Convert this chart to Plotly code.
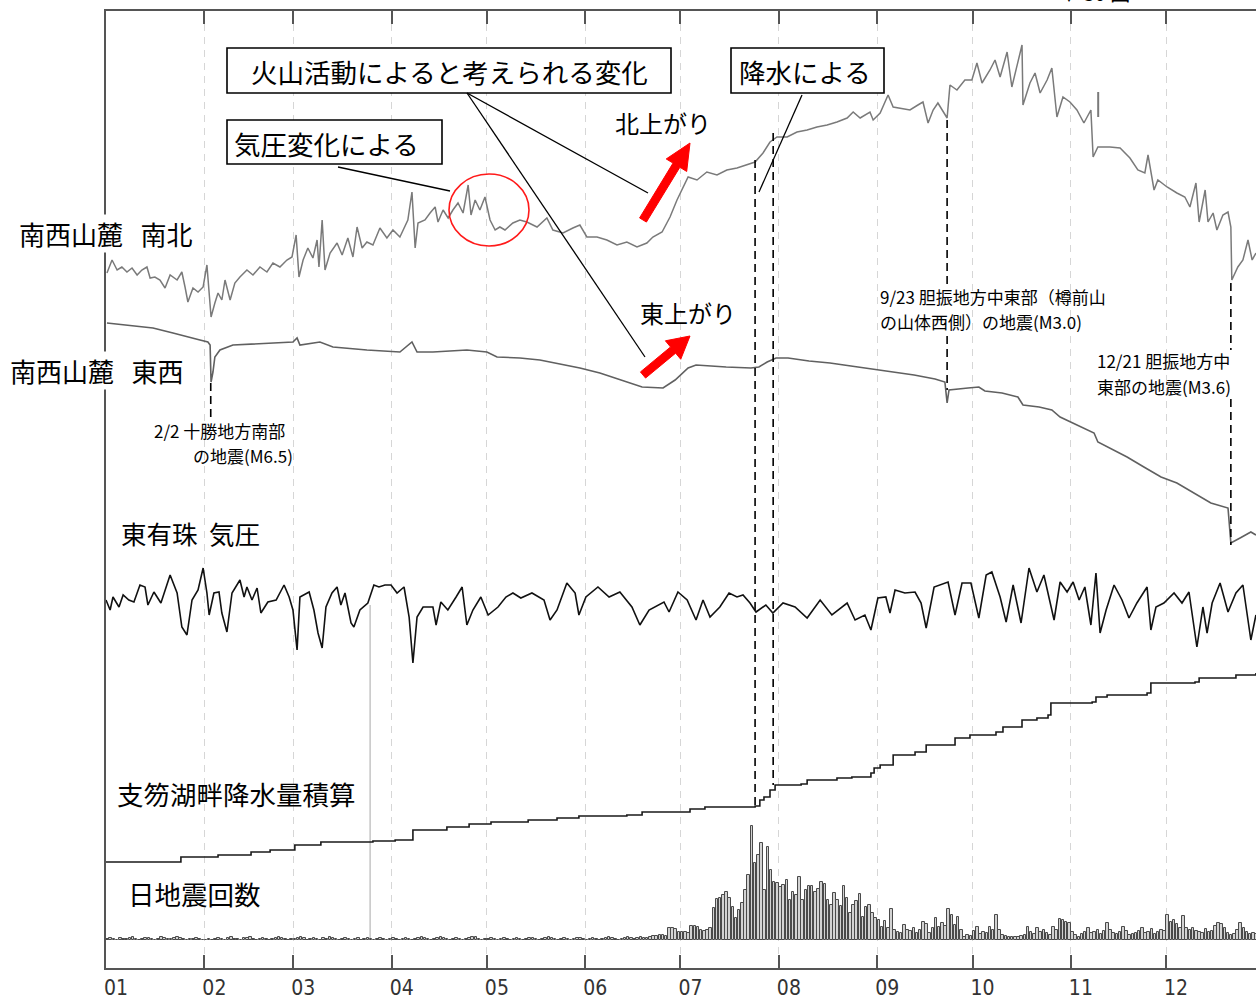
import math
import numpy as np
import pandas as pd
import plotly.graph_objects as go

YEAR_START = pd.Timestamp("2013-01-01")
JP = "Noto Sans CJK JP"

# ---- 南西山麓 南北 (tilt, relative level) : day of year / level ----
ns_day = [0.3, 1.9, 3.5, 5.0, 6.6, 8.2, 9.8, 11.3, 12.9, 13.9,
          15.4, 17.0, 18.6, 20.2, 22.4, 23.9, 24.9, 25.8, 27.4, 29.0,
          30.6, 31.8, 32.5, 33.1, 34.3, 35.3, 36.5, 37.5, 39.1, 40.6,
          42.2, 44.4, 46.3, 48.5, 50.7, 52.6, 54.8, 57.0, 58.6, 59.9,
          60.8, 62.1, 63.6, 65.2, 66.5, 67.1, 68.1, 69.0, 70.6, 72.8,
          74.4, 76.2, 77.8, 79.1, 80.7, 82.2, 84.1, 86.3, 88.5, 90.4,
          92.6, 94.2, 95.1, 96.4, 97.4, 98.3, 100.5, 102.1, 103.7, 104.6,
          106.2, 107.8, 109.3, 110.9, 112.5, 114.1, 115.0, 116.3, 117.8, 119.4,
          121.0, 122.6, 124.1, 125.7, 128.2, 130.4, 132.6, 135.8, 138.9, 140.8,
          144.0, 147.1, 149.3, 151.5, 154.7, 157.8, 161.0, 164.1, 167.3, 170.4,
          172.3, 175.2, 177.7, 179.9, 181.8, 183.4, 186.2, 189.3, 192.5, 195.6,
          198.8, 201.9, 204.5, 207.0, 209.2, 211.4, 214.6, 217.7, 220.9, 224.0,
          227.2, 230.3, 233.5, 235.4, 237.6, 240.7, 241.7, 243.9, 246.4, 248.0,
          250.2, 253.3, 255.8, 257.4, 259.0, 260.6, 262.1, 265.0, 265.9, 268.1,
          270.6, 272.8, 274.4, 276.0, 278.5, 280.1, 281.7, 283.9, 285.4, 287.0,
          288.6, 288.9, 291.1, 292.7, 294.3, 296.5, 298.0, 299.6, 301.5, 303.7,
          305.9, 308.1, 310.3, 311.0, 312.5, 316.3, 319.5, 322.6, 325.1, 327.3,
          328.3, 329.5, 330.2, 331.4, 334.3, 337.4, 339.9, 341.5, 343.4, 344.4,
          346.3, 347.2, 348.8, 350.0, 351.9, 353.5, 354.4, 354.7, 356.6, 358.2,
          359.8, 361.1, 362.3]
ns_val = [727, 740, 730, 733, 728, 732, 725, 730, 733, 722,
          723, 720, 712, 725, 720, 728, 713, 698, 712, 708,
          713, 735, 707, 683, 697, 707, 700, 720, 700, 717,
          723, 730, 725, 733, 728, 737, 733, 740, 743, 765,
          723, 740, 752, 742, 760, 733, 780, 730, 747, 757,
          745, 762, 743, 773, 752, 758, 755, 772, 762, 770,
          763, 775, 780, 808, 752, 777, 780, 787, 793, 778,
          790, 782, 790, 797, 787, 815, 785, 800, 790, 803,
          780, 770, 773, 770, 777, 780, 778, 773, 782, 770,
          767, 772, 775, 763, 763, 760, 755, 758, 753, 757,
          763, 768, 783, 800, 813, 823, 820, 828, 825, 830,
          832, 835, 838, 847, 858, 863, 863, 868, 870, 873,
          875, 878, 882, 888, 882, 888, 880, 887, 905, 893,
          892, 890, 895, 898, 877, 890, 897, 882, 915, 910,
          920, 920, 937, 917, 930, 940, 923, 948, 913, 933,
          955, 895, 917, 927, 907, 920, 932, 883, 903, 898,
          890, 877, 890, 843, 853, 853, 852, 842, 830, 827,
          845, 823, 810, 820, 813, 807, 803, 793, 817, 778,
          810, 778, 787, 770, 785, 788, 773, 720, 733, 740,
          760, 740, 747]
# short isolated piece of the NS record in November
ns_frag_day = [312.6, 312.6]
ns_frag_val = [908, 883]

# ---- 南西山麓 東西 ----
ew_day = [0.3, 8.5, 14.8, 21.1, 26.5, 29.6, 32.1, 32.8, 33.1, 33.7,
          34.3, 35.9, 40.0, 50.7, 58.9, 60.2, 61.1, 67.4, 71.5, 82.2,
          92.6, 96.4, 98.0, 103.0, 113.7, 120.0, 123.2, 130.4, 136.7, 143.0,
          149.3, 155.6, 162.3, 168.9, 175.5, 179.3, 183.4, 185.9, 195.4, 203.2,
          205.7, 208.3, 211.1, 214.9, 221.5, 228.1, 234.7, 241.3, 248.0, 254.6,
          261.2, 264.3, 265.0, 265.6, 271.6, 275.0, 276.9, 282.3, 287.3, 288.9,
          294.0, 298.0, 300.6, 305.9, 311.3, 312.5, 316.3, 321.7, 327.0, 332.4,
          337.4, 342.8, 348.1, 353.5, 354.4, 357.3, 360.7, 362.3]
ew_val = [677, 674, 672, 667, 663, 660, 658, 655, 618, 628,
          643, 650, 655, 657, 658, 662, 655, 658, 653, 650,
          648, 658, 648, 648, 650, 648, 643, 642, 640, 636,
          632, 627, 620, 613, 612, 620, 632, 635, 633, 632,
          633, 638, 642, 642, 639, 637, 634, 631, 628, 625,
          621, 618, 597, 610, 612, 613, 609, 607, 603, 595,
          593, 590, 583, 575, 567, 558, 552, 543, 533, 523,
          517, 507, 497, 492, 457, 462, 468, 465]

# ---- 東有珠 気圧 ----
pres_day = [0.0, 1.3, 2.2, 4.1, 5.4, 7.2, 8.8, 10.7, 12.3, 13.2,
            15.1, 17.3, 20.2, 22.4, 23.9, 25.5, 27.1, 29.0, 30.6, 31.8,
            32.5, 34.0, 35.6, 36.5, 38.1, 39.7, 42.2, 43.5, 44.4, 46.0,
            47.6, 48.8, 51.0, 53.6, 56.1, 57.7, 58.9, 60.2, 61.1, 64.0,
            65.5, 66.8, 68.1, 69.3, 71.2, 72.8, 74.0, 75.3, 77.2, 78.1,
            80.0, 82.5, 84.4, 86.0, 87.9, 89.8, 91.7, 93.9, 95.5, 96.7,
            98.0, 99.9, 103.0, 104.0, 105.5, 107.7, 110.3, 112.2, 113.7, 115.6,
            118.1, 120.4, 123.5, 126.0, 128.2, 130.7, 134.2, 138.0, 139.9, 142.1,
            145.2, 147.8, 149.0, 151.2, 155.0, 158.5, 161.9, 165.7, 168.2, 171.1,
            175.8, 177.4, 180.2, 183.1, 185.9, 188.1, 190.3, 193.4, 196.3, 198.8,
            200.7, 202.9, 204.8, 207.9, 210.1, 213.3, 217.1, 220.9, 225.0, 228.7,
            233.5, 236.0, 239.1, 241.0, 243.2, 245.7, 247.0, 248.6, 251.7, 254.9,
            256.8, 258.4, 260.9, 265.3, 267.5, 269.7, 272.5, 275.0, 277.3, 279.1,
            281.7, 283.6, 285.8, 288.3, 290.8, 293.3, 295.5, 298.7, 300.6, 302.8,
            304.7, 306.6, 308.4, 310.3, 311.9, 313.2, 315.1, 317.6, 320.1, 322.3,
            324.8, 328.0, 329.2, 330.8, 333.3, 336.5, 339.0, 341.2, 343.7, 345.6,
            346.9, 348.5, 351.0, 353.5, 356.0, 358.2, 360.7, 362.3]
pres_val = [400, 390, 403, 393, 405, 400, 398, 415, 413, 395,
            408, 397, 425, 407, 373, 365, 400, 410, 432, 407,
            385, 407, 408, 387, 368, 407, 420, 403, 413, 400,
            412, 387, 398, 400, 415, 403, 390, 350, 403, 408,
            390, 367, 352, 393, 407, 413, 395, 407, 377, 373,
            390, 397, 415, 413, 415, 415, 407, 413, 383, 337,
            383, 393, 393, 375, 398, 390, 403, 413, 375, 390,
            403, 385, 393, 403, 407, 402, 407, 400, 380, 390,
            417, 407, 385, 403, 413, 403, 408, 393, 375, 390,
            398, 388, 408, 400, 380, 400, 383, 393, 407, 403,
            405, 397, 388, 395, 387, 397, 393, 382, 400, 385,
            397, 380, 385, 370, 402, 403, 387, 410, 407, 408,
            397, 372, 413, 418, 385, 417, 417, 382, 425, 428,
            403, 378, 415, 377, 432, 408, 425, 380, 418, 408,
            418, 400, 413, 375, 427, 367, 390, 415, 400, 382,
            397, 413, 370, 393, 397, 407, 397, 408, 353, 393,
            367, 397, 417, 388, 407, 415, 360, 385]
# one-sample dropout in the pressure record (late March)
pres_drop_day = [83.2, 83.2]
pres_drop_val = [395, 60]

# ---- 支笏湖畔 降水量積算 (cumulative, relative level) ----
rain_day = [0.0, 23.6, 35.3, 45.7, 51.7, 59.5, 67.7, 84.1, 91.1, 96.7,
            107.4, 114.4, 121.3, 133.0, 142.1, 149.0, 164.1, 168.9, 184.0, 188.7,
            204.5, 206.0, 207.3, 209.2, 210.8, 219.0, 220.9, 230.3, 235.0, 241.0,
            242.0, 243.9, 248.0, 254.9, 258.4, 267.5, 272.2, 280.4, 282.6, 288.6,
            293.3, 296.8, 297.7, 310.7, 311.9, 315.4, 328.0, 329.2, 343.1, 344.4,
            356.0, 362.3]
rain_cum = [138, 143, 145, 148, 150, 155, 158, 159, 160, 170,
            173, 176, 178, 180, 182, 184, 185, 188, 191, 193,
            194, 200, 203, 210, 215, 216, 220, 222, 223, 227,
            232, 235, 245, 248, 255, 262, 265, 268, 273, 280,
            282, 285, 297, 298, 303, 305, 307, 317, 318, 322,
            325, 327]

# ---- 日地震回数 (daily counts, Jan 1 .. Dec 31) ----
quake_jan = [1, 2, 1, 0, 2, 1, 1, 2, 3, 1, 0, 1, 2, 2, 1, 0, 1, 3, 2, 1, 1, 2, 3, 2, 1, 0, 1, 1, 2, 1, 0]
quake_feb = [0, 1, 0, 1, 2, 1, 0, 2, 3, 1, 1, 0, 2, 2, 3, 1, 0, 1, 2, 1, 0, 1, 2, 3, 2, 1, 0, 1]
quake_mar = [1, 2, 3, 2, 0, 1, 2, 1, 0, 2, 1, 3, 2, 1, 0, 1, 2, 1, 0, 1, 2, 0, 1, 2, 1, 0, 1, 2, 1, 0, 1]
quake_apr = [2, 1, 0, 1, 2, 1, 0, 1, 2, 3, 2, 1, 0, 1, 2, 3, 2, 1, 0, 1, 2, 1, 0, 1, 2, 3, 3, 1, 0, 1]
quake_may = [1, 2, 1, 0, 1, 2, 1, 0, 1, 2, 1, 0, 1, 2, 2, 1, 0, 1, 2, 3, 2, 1, 0, 1, 2, 1, 0, 1, 2, 2, 1]
quake_jun = [0, 1, 2, 1, 0, 1, 2, 3, 2, 1, 0, 1, 2, 3, 2, 1, 2, 3, 2, 2, 3, 4, 4, 5, 5, 4, 12, 12, 11, 8]
quake_jul = [8, 8, 7, 14, 14, 13, 10, 9, 10, 12, 32, 41, 42, 45, 48, 42, 33, 22, 30, 37,
             50, 65, 114, 77, 85, 97, 50, 93, 70, 58, 57]
quake_aug = [53, 55, 60, 40, 48, 45, 63, 40, 50, 54, 54, 48, 51, 58, 56, 40, 35, 47, 40, 34,
             54, 42, 27, 35, 39, 46, 23, 33, 35, 27, 22]
quake_sep = [20, 13, 19, 12, 31, 10, 8, 7, 15, 10, 9, 12, 7, 10, 18, 16, 7, 12, 22, 13,
             17, 14, 31, 25, 15, 23, 10, 3, 5, 4]
quake_oct = [9, 13, 6, 8, 7, 13, 10, 25, 10, 5, 4, 3, 3, 3, 3, 4, 5, 13, 8, 6,
             12, 8, 10, 7, 5, 13, 10, 21, 20, 18, 17]
quake_nov = [8, 5, 3, 6, 8, 12, 7, 8, 10, 6, 9, 17, 10, 7, 6, 8, 13, 9, 5, 6,
             7, 9, 12, 7, 8, 11, 6, 8, 10, 9]
quake_dec = [25, 18, 20, 16, 12, 24, 12, 10, 12, 9, 8, 7, 11, 8, 9, 14, 17, 16, 12, 7,
             5, 6, 10, 17, 12, 8, 6, 7, 6, 5, 4]
quake_counts = (quake_jan + quake_feb + quake_mar + quake_apr + quake_may + quake_jun +
                quake_jul + quake_aug + quake_sep + quake_oct + quake_nov + quake_dec)

# event days (day of year)
quake_event_days = [33.0, 265.0, 354.4]   # 2/2, 9/23, 12/21
rain_event_days = [204.5, 210.2]

month_labels = ["01", "02", "03", "04", "05", "06", "07", "08", "09", "10", "11", "12"]


def to_dates(days):
    return YEAR_START + pd.to_timedelta(np.asarray(days, dtype=float), unit="D")


# figure geometry (plot area in pixels)
W, H = 1256, 1001
L, R, T, B = 106, 1256, 11, 968
COUNT_BASE = 940   # pixel row of the zero line of the count bars


def px(x):
    return (x - L) / (R - L)


def py(y):
    return (B - y) / (B - T)


fig = go.Figure()

# daily earthquake counts (own overlaid axis, 1 count per pixel)
fig.add_trace(go.Bar(
    x=to_dates(np.arange(len(quake_counts)) + 0.5), y=quake_counts, yaxis="y2",
    width=0.8 * 86400000,
    marker=dict(color="#d2d2d2", line=dict(color="#4a4a4a", width=1)),
    hoverinfo="skip"))

fig.add_trace(go.Scatter(x=to_dates(pres_drop_day), y=pres_drop_val, mode="lines",
                         line=dict(color="#a8a8a8", width=1), hoverinfo="skip"))
fig.add_trace(go.Scatter(x=to_dates(rain_day), y=rain_cum, mode="lines",
                         line=dict(color="#1a1a1a", width=1.6, shape="hv")))
fig.add_trace(go.Scatter(x=to_dates(pres_day), y=pres_val, mode="lines",
                         line=dict(color="#111111", width=1.6)))
fig.add_trace(go.Scatter(x=to_dates(ew_day), y=ew_val, mode="lines",
                         line=dict(color="#606060", width=1.6)))
fig.add_trace(go.Scatter(x=to_dates(ns_day), y=ns_val, mode="lines",
                         line=dict(color="#7a7a7a", width=1.5)))
fig.add_trace(go.Scatter(x=to_dates(ns_frag_day), y=ns_frag_val, mode="lines",
                         line=dict(color="#7a7a7a", width=2)))

shapes = []
annotations = []


def text(s, x, y, size, xanchor="left", bg=None):
    d = dict(text=s, x=px(x), y=py(y), xref="paper", yref="paper",
             xanchor=xanchor, yanchor="middle", showarrow=False, align="left",
             font=dict(size=size, family=JP, color="black"), borderpad=0)
    if bg:
        d["bgcolor"] = bg
    annotations.append(d)


def seg(x0, y0, x1, y1, color="black", width=1.3, dash=None):
    shapes.append(dict(type="line", xref="paper", yref="paper",
                       x0=px(x0), y0=py(y0), x1=px(x1), y1=py(y1), layer="above",
                       line=dict(color=color, width=width, dash=dash)))


def box(x0, y0, x1, y1):
    shapes.append(dict(type="rect", xref="paper", yref="paper",
                       x0=px(x0), y0=py(y1), x1=px(x1), y1=py(y0), layer="above",
                       fillcolor="white", line=dict(color="black", width=1.6)))


def event_line(day, y0, y1):
    shapes.append(dict(type="line", xref="x", yref="paper",
                       x0=to_dates([day])[0], x1=to_dates([day])[0],
                       y0=py(y0), y1=py(y1), layer="above",
                       line=dict(color="black", width=1.6, dash="8px,5px")))


def arrow(x0, y0, x1, y1, shaft=8, head_len=24, head_half=12):
    dx, dy = x1 - x0, y1 - y0
    n = math.hypot(dx, dy)
    ux, uy = dx / n, dy / n
    nx, ny = -uy, ux
    bx, by = x1 - head_len * ux, y1 - head_len * uy
    s = shaft / 2
    pts = [(x0 + nx * s, y0 + ny * s), (bx + nx * s, by + ny * s),
           (bx + nx * head_half, by + ny * head_half), (x1, y1),
           (bx - nx * head_half, by - ny * head_half), (bx - nx * s, by - ny * s),
           (x0 - nx * s, y0 - ny * s)]
    path = "M " + " L ".join(f"{px(a):.5f},{py(b):.5f}" for a, b in pts) + " Z"
    shapes.append(dict(type="path", xref="paper", yref="paper", path=path,
                       fillcolor="#ff0000", line=dict(color="#ff0000", width=1),
                       layer="above"))


# event markers
event_line(quake_event_days[0], 383, 418)
event_line(quake_event_days[1], 120, 285)
event_line(quake_event_days[1], 336, 390)
event_line(quake_event_days[2], 283, 350)
event_line(quake_event_days[2], 399, 545)
event_line(rain_event_days[0], 160, 806)
event_line(rain_event_days[1], 133, 785)

# callout boxes and leader lines
box(227, 48, 671, 93)
box(731, 48, 884, 93)
box(227, 120, 442, 164)
seg(467, 93, 648, 193)
seg(467, 93, 645, 357)
seg(338, 167, 450, 191)
seg(802, 95, 759, 192)

# red ellipse round the pressure-induced change
shapes.append(dict(type="circle", xref="paper", yref="paper",
                   x0=px(449), x1=px(529), y0=py(246), y1=py(174), layer="above",
                   line=dict(color="#ff1a1a", width=1.6)))

arrow(643, 220, 690, 143, shaft=8, head_len=26, head_half=12)
arrow(643, 375, 690, 336, shaft=8, head_len=22, head_half=12)

# labels
text("南西山麓   南北", 18, 233, 26, bg="white")
text("南西山麓   東西", 9, 370, 26, bg="white")
text("東有珠  気圧", 120, 532, 25.5)
text("支笏湖畔降水量積算", 116, 793, 26.5)
text("日地震回数", 127, 893, 26.5)
text("火山活動によると考えられる変化", 449, 71, 26.5, xanchor="center")
text("降水による", 805, 71, 26.5, xanchor="center")
text("気圧変化による", 233, 143, 26.5)
text("北上がり", 614, 122, 24)
text("東上がり", 639, 312, 24)
# event notes (two lines each)
text("2/2 十勝地方南部", 153, 431, 17)
text("の地震(M6.5)", 192, 456, 17)
text("9/23 胆振地方中東部（樽前山", 879, 297, 17)
text("の山体西側）の地震(M3.0)", 879, 322, 17)
text("12/21 胆振地方中", 1096, 361, 17)
text("東部の地震(M3.6)", 1096, 386, 17)
text("▼ 30 回", 1058, -7, 20)

x_end = YEAR_START + pd.Timedelta(days=362.32)
month_starts = pd.date_range("2013-01-01", periods=12, freq="MS")
line_range = [1000 - B, 1000 - T]
count_range = [-(B - COUNT_BASE), (B - T) - (B - COUNT_BASE)]

fig.update_layout(
    width=W, height=H,
    margin=dict(l=L, r=W - R, t=T, b=H - B, pad=0, autoexpand=False),
    paper_bgcolor="white", plot_bgcolor="white",
    showlegend=False, bargap=0,
    xaxis=dict(
        type="date", range=[YEAR_START, x_end], automargin=False,
        tickvals=month_starts, ticktext=month_labels,
        ticks="inside", ticklen=13, tickwidth=2, tickcolor="#555555",
        showline=True, linecolor="#555555", linewidth=2, mirror="ticks",
        showgrid=True, gridcolor="#d6d6d6", gridwidth=1, griddash="7px,6px",
        zeroline=False, ticklabelshift=10, ticklabelstandoff=0,
        tickfont=dict(size=21, color="#333333",
                      family="Liberation Sans Narrow, DejaVu Sans Condensed, " + JP),
    ),
    yaxis=dict(
        range=line_range, showline=True, linecolor="#555555", linewidth=2,
        showticklabels=False, ticks="", showgrid=False, zeroline=False, automargin=False,
    ),
    yaxis2=dict(
        overlaying="y", range=count_range, visible=False,
        showgrid=False, zeroline=False,
    ),
    shapes=shapes,
    annotations=annotations,
)

fig.write_html("out.html", config={"displayModeBar": False})
